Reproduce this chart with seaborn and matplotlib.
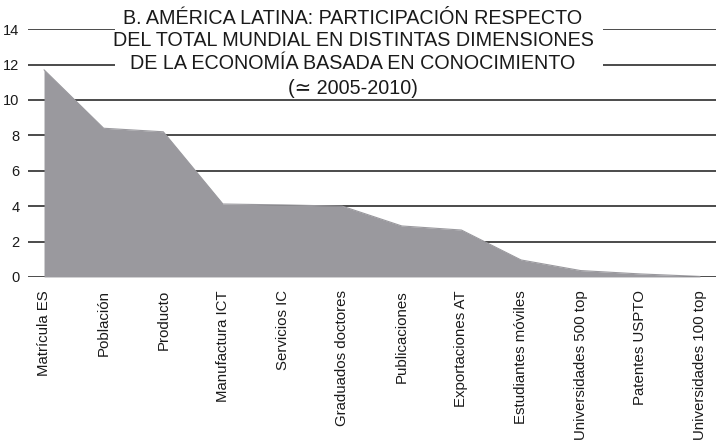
import matplotlib
matplotlib.use("Agg")
import matplotlib.pyplot as plt
from matplotlib.patches import Rectangle
import seaborn as sns
import pandas as pd

categories = ["Matrícula ES", "Población", "Producto", "Manufactura ICT", "Servicios IC",
              "Graduados doctores", "Publicaciones", "Exportaciones AT", "Estudiantes móviles",
              "Universidades 500 top", "Patentes USPTO", "Universidades 100 top"]
values = [11.7, 8.4, 8.2, 4.12, 4.07, 4.0, 2.88, 2.65, 0.96, 0.36, 0.17, 0.03]
yticks = [0, 2, 4, 6, 8, 10, 12, 14]
title_lines = ["B. AMÉRICA LATINA: PARTICIPACIÓN RESPECTO",
               "DEL TOTAL MUNDIAL EN DISTINTAS DIMENSIONES",
               "DE LA ECONOMÍA BASADA EN CONOCIMIENTO",
               "(≃ 2005-2010)"]

sns.set_theme(style="white")
plt.rcParams['font.family'] = ['Liberation Sans', 'DejaVu Sans']

df = pd.DataFrame({"x": range(len(categories)), "v": values})

fig = plt.figure(figsize=(7.16, 4.41), dpi=100)
ax = fig.add_axes([0.039, 0.372, 0.961, 0.562])

area_color = "#9a999e"
ink = "#1a1a1a"
for t in yticks:
    ax.axhline(t, color=ink, lw=1.1, zorder=0)
ax.fill_between(df["x"], 0, df["v"], color=area_color, lw=0, zorder=2)
sns.lineplot(data=df, x="x", y="v", ax=ax, color=area_color, lw=0.8, zorder=3)

ax.set_xlim(-0.27, 11.27)
ax.set_ylim(0, 14)
ax.set_yticks(yticks)
ax.set_yticklabels([str(t) for t in yticks], fontsize=10.5, color=ink)
ax.set_xticks(range(len(categories)))
ax.set_xticklabels(categories, rotation=90, fontsize=10.8, color=ink)
ax.tick_params(axis="both", length=0)
ax.tick_params(axis="y", pad=6)
ax.tick_params(axis="x", pad=9.5)
ax.set_xlabel("")
ax.set_ylabel("")
for s in ax.spines.values():
    s.set_visible(False)

# white box behind the title, interrupting the upper gridlines
fig.add_artist(Rectangle((115 / 716, 1 - 78 / 441), 488 / 716, 78 / 441,
                         transform=fig.transFigure, facecolor="white",
                         edgecolor="none", zorder=4))

baselines = [24, 46, 69, 94]
for line, b in zip(title_lines, baselines):
    fig.text(0.493, 1 - b / 441, line, ha="center", va="baseline", fontsize=14.2,
             color=ink, zorder=5)

fig.savefig("out.png", dpi=100)
